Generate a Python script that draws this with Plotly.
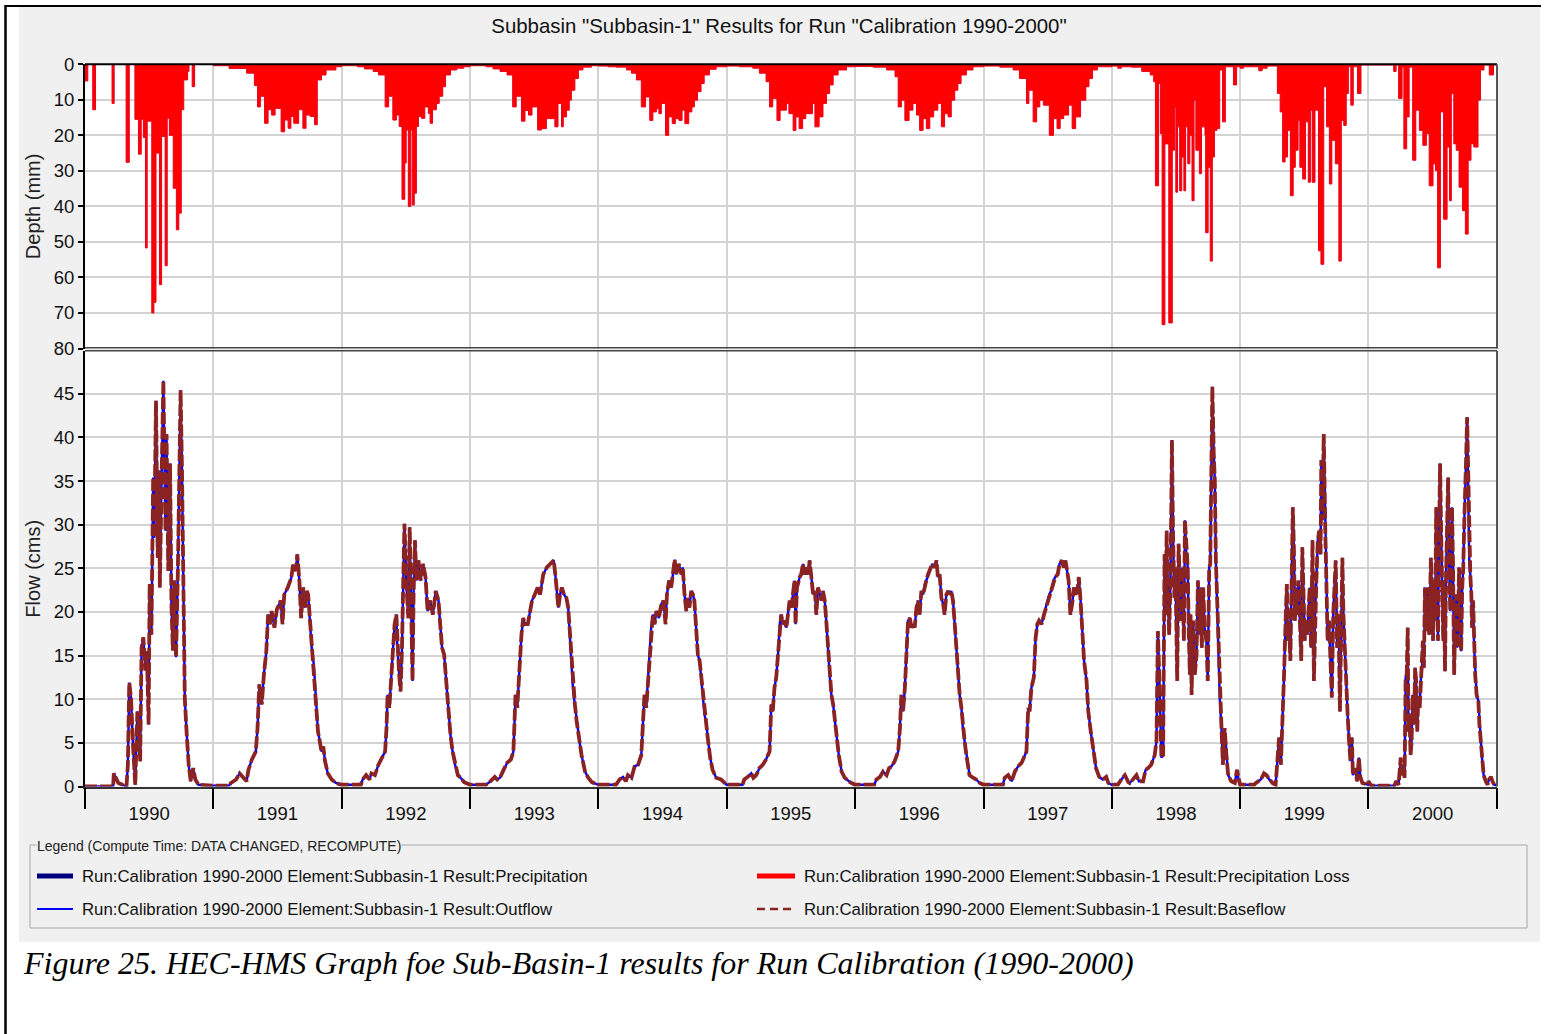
import datetime as dt
import plotly.graph_objects as go

# ---------------- data (day-of-year, value) ----------------
years = list(range(1990, 2001))
depth_ticks = [0, 10, 20, 30, 40, 50, 60, 70, 80]
flow_ticks = [0, 5, 10, 15, 20, 25, 30, 35, 40, 45]

flow_1990 = [(0,0),(80,0),(82,1.5),(95,0.4),(118,0),(122,2.5),(126,11.9),(131,10.1),(137,4.4),(143,0.2),(149,8.6),(153,7.1),(157,2.9),(161,15.9),(166,17.1),(172,13.3),(176,15.5),(181,7.1),(184,23.2),(189,17.4),(194,35.4),(197,28.5),(202,44.2),(207,26.2),(211,36.2),(213,22.8),(218,35.4),(223,46.5),(229,29.3),(232,40.4),(237,24.7),(242,37),(246,21),(250,15.6),(255,23.6),(259,14.8),(264,24),(269,38.5),(272,45.4),(276,36.2),(280,21),(284,10.1),(289,6.3),(295,2.5),(301,0.6),(308,2.1),(314,0.8),(323,0.2)]
flow_1991 = [(0,0.1),(45,0.1),(50,0.4),(65,0.8),(75,1.5),(85,1),(95,0.6),(100,1.9),(110,3.1),(121,4),(126,6.7),(131,11.7),(138,9.4),(144,12.8),(151,15.5),(156,19.7),(161,18.6),(166,20.1),(174,18.2),(181,20.3),(192,21.3),(197,18.6),(202,22),(212,22.8),(222,23.9),(227,25.4),(235,24.7),(239,26.6),(245,23.6),(250,19.3),(256,22.8),(261,20.5),(266,22.4),(270,22),(274,19.7),(280,15.9),(286,14),(290,10.9),(294,9.4),(298,6.3),(303,5.2),(308,4),(313,4.6),(318,2.9),(326,1.5),(337,0.8),(349,0.4)]
flow_1992 = [(0,0.2),(55,0.2),(60,0.8),(70,1.3),(80,0.8),(85,1.5),(95,1.3),(105,2.5),(116,3.4),(124,4),(128,6.7),(131,10.5),(136,9),(141,12.1),(146,15.1),(151,18.6),(156,19.7),(159,15.9),(164,12.8),(168,10.9),(172,15.9),(176,24.3),(179,30.1),(185,22.8),(190,19.3),(194,29.7),(199,19.7),(202,12.1),(205,22),(209,28.2),(213,23.6),(219,25.9),(225,23.6),(232,25.5),(239,24),(245,20.1),(252,21.3),(260,19.7),(268,22.4),(276,21.3),(280,19),(286,15.9),(292,15.1),(298,11.7),(304,9),(310,5.9),(316,4),(323,2.5),(331,1.3),(339,1),(349,0.5)]
flow_1993 = [(0,0.2),(45,0.2),(55,0.5),(70,1.1),(77,0.8),(85,1),(95,1.9),(105,2.7),(116,3.1),(123,4),(126,7.1),(129,10.5),(134,9),(138,12.1),(142,14.4),(146,17.4),(151,19.3),(156,18.6),(164,18.6),(171,20.5),(176,21.3),(184,22),(192,22.8),(199,22),(208,24.3),(218,25.1),(232,25.7),(238,25.9),(244,23.6),(251,20.5),(256,22),(261,22.8),(267,22),(274,21.6),(279,20.5),(284,17.4),(289,13.6),(293,10.9),(298,9.4),(303,7.5),(311,5.2),(317,3.6),(327,1.7),(336,1),(346,0.5)]
flow_1994 = [(0,0.2),(50,0.2),(60,0.8),(70,1.1),(78,0.6),(84,1.3),(94,1),(103,2.3),(113,2.5),(122,3.6),(127,7.5),(131,10.5),(136,9),(141,12.1),(146,15.1),(150,18.2),(155,19.7),(160,18.6),(165,20.1),(172,19.3),(179,20.9),(185,21.3),(191,18.6),(195,22),(201,23.6),(207,22.8),(212,24.3),(217,26),(221,24.3),(229,25.5),(236,24.3),(240,25.1),(245,22),(250,20.1),(254,21.6),(259,20.5),(264,22.4),(269,22),(273,21.3),(278,18.2),(283,15.1),(288,14.4),(295,11.3),(302,8.2),(306,7.5),(311,5.6),(318,3.3),(325,1.9),(335,1),(349,0.8)]
flow_1995 = [(0,0.2),(45,0.2),(50,0.8),(60,1.1),(70,1.5),(76,1),(84,1.3),(93,2.1),(103,2.5),(112,3.1),(122,4),(127,9.4),(131,8.6),(136,11.3),(141,12.5),(146,15.1),(151,18.6),(155,19.7),(160,18.6),(165,19),(170,18.2),(174,19.7),(179,21.3),(184,20.5),(189,22),(193,23.6),(196,18.6),(200,22.8),(208,24),(212,24.3),(217,25.5),(222,24.3),(227,25.1),(232,24.3),(236,25.9),(241,24),(246,22),(251,22.4),(255,19.7),(260,22.8),(265,22),(270,21.3),(274,22.4),(279,21.3),(284,18.6),(289,15.1),(293,12.8),(298,10.5),(303,9.4),(308,7.5),(313,5.6),(319,3.6),(327,1.7),(336,1),(351,0.5)]
flow_1996 = [(0,0.2),(55,0.2),(61,0.8),(71,1.1),(80,1.7),(90,1.3),(97,2.1),(104,2.3),(113,2.9),(123,4),(128,6.7),(132,10.5),(137,8.6),(142,11.3),(147,15.1),(151,19),(156,19.3),(161,18.2),(166,18.6),(170,18.2),(175,20.5),(180,21.3),(184,19.7),(189,22.4),(194,22),(199,23.2),(203,23.6),(208,24.3),(213,24.7),(220,25.5),(227,25.1),(232,25.9),(236,24),(241,24.3),(246,21.6),(251,20.9),(255,19.7),(260,22),(265,22.4),(270,22),(274,22.4),(279,21.3),(284,18.6),(289,15.1),(293,12.8),(298,10.5),(303,9),(307,6.7),(312,5.2),(317,3.6),(326,1.3),(336,1),(345,0.8),(355,0.4)]
flow_1997 = [(0,0.2),(55,0.2),(60,1),(70,1.3),(80,0.6),(89,1.7),(98,2.3),(108,2.7),(122,4),(127,9),(131,8.6),(136,11.3),(143,12.5),(148,17),(153,18.6),(158,19),(165,18.6),(172,19.7),(178,20.5),(182,21.3),(187,22),(192,22.4),(199,23.6),(204,24),(211,24.3),(216,25.5),(223,25.9),(228,25.1),(233,25.9),(238,24.3),(242,23.6),(247,19.7),(252,20.9),(257,22.8),(262,22),(267,22.4),(271,24),(276,21.3),(281,17),(286,14.4),(293,12.1),(298,8.6),(305,6.3),(313,4),(320,2.1),(329,1.1),(339,0.8),(349,1.1),(355,0.4)]
flow_1998 = [(0,0.2),(17,0.2),(27,0.8),(37,1.3),(47,0.5),(51,0.4),(60,0.8),(70,1.3),(77,0.6),(89,0.6),(96,1.9),(103,2.1),(112,2.5),(122,3.6),(127,5.2),(131,17.8),(136,11.3),(141,3.3),(146,3.6),(150,26.6),(153,19.7),(156,29.3),(160,21.3),(163,17.4),(167,23.6),(171,39.7),(174,29.3),(178,21.6),(181,25.1),(184,15.9),(186,12.1),(190,27.8),(193,22.8),(197,19),(200,25.1),(203,21.6),(205,16.7),(208,30.5),(212,26.6),(216,25.1),(219,17.4),(222,12.8),(224,19.7),(227,10.5),(231,19),(236,12.8),(241,15.1),(245,23.6),(248,17.4),(252,22.8),(256,15.9),(260,22.8),(264,18.2),(269,16.7),(273,12.1),(277,25.1),(280,25.5),(284,37),(286,45.8),(290,38.1),(293,35.1),(296,25.9),(299,21.6),(303,16.3),(307,10.2),(312,6.7),(316,2.5),(321,6.7),(326,3.6),(331,1.3),(340,0.6),(350,0.4),(356,1.9),(362,0.4)]
flow_1999 = [(0,0.2),(40,0.2),(45,0.4),(59,0.8),(68,1.5),(75,1.3),(83,0.8),(92,0.4),(101,0.2),(106,3.6),(111,5.6),(116,2.5),(120,6.3),(125,12.8),(130,19.7),(133,23.2),(136,16.7),(139,19),(143,14.4),(147,23.6),(150,32),(153,27.4),(156,19),(158,22.8),(162,19.7),(166,23.6),(170,19.7),(174,14.4),(177,27.4),(181,22),(184,16.7),(187,19),(191,17.4),(194,19.7),(198,22.8),(202,15.9),(206,28.2),(210,12.1),(213,19.7),(217,23.6),(221,28.2),(225,29.3),(229,26.6),(231,37.4),(234,30.5),(238,40.4),(242,30.1),(246,23.6),(249,16.7),(253,19),(257,14),(261,10.2),(265,19.7),(268,22),(272,25.9),(276,15.9),(280,19.7),(284,8.6),(287,19),(291,26.2),(294,19.7),(298,15.9),(302,10.2),(306,8.2),(310,5.2),(314,2.9),(318,5.6),(321,1.3),(327,2.1),(333,0.6),(338,3.3),(342,1.1),(348,0.4),(364,0.2)]
flow_2000 = [(0,0.6),(8,0.1),(74,0.1),(79,0.6),(86,0.2),(92,3.3),(95,1.3),(99,2.5),(103,1),(106,12.5),(109,12.8),(112,18.2),(114,6.3),(117,8.2),(120,3.6),(123,5.2),(126,10.5),(130,7.1),(133,13.6),(136,12.1),(139,6.3),(142,10.2),(146,9),(149,12.1),(153,13.6),(155,16.7),(158,13.6),(161,22.8),(164,17.8),(167,20.1),(170,22.8),(173,17.4),(175,19.7),(178,26.2),(181,21.3),(184,16.7),(187,23.6),(190,19),(193,32),(195,24.7),(198,16.7),(201,28.2),(204,37),(207,29.3),(210,22.8),(213,16.7),(215,23.6),(218,13.2),(221,24.3),(224,29.3),(227,35.4),(230,25.1),(233,20.1),(235,25.1),(238,32),(241,25.1),(244,12.8),(247,18.6),(250,22),(253,15.9),(255,18.2),(258,25.1),(261,19),(264,15.5),(267,22.8),(270,25.1),(273,30.5),(275,35.1),(278,37.4),(281,42.3),(284,35.1),(287,25.9),(290,24.3),(293,22),(295,18.2),(298,21.3),(301,15.9),(304,12.8),(308,10.5),(313,9.8),(316,7.1),(320,5.2),(324,2.9),(328,1.3),(334,0.6),(339,0.2),(343,0.8),(349,1.1),(353,0.6),(358,0.2),(365,0.1)]

precip_1990 = [(0,4.7),(8,0),(22,12.8),(30,0),(77,11),(83,0),(117,27.6),(126,0),(142,15.5),(152,25.3),(160,15.5),(166,20.6),(172,51.7),(177,16),(190,70),(196,67),(202,25),(212,62),(218,20.3),(228,56.7),(234,15.2),(240,20),(251,34.9),(260,46.6),(267,41.9),(274,12.8),(281,4.4),(292,2),(296,0),(305,6.3),(312,0)]
precip_1991 = [(0,0.4),(45,1.2),(95,2.5),(117,6),(126,12),(134,9),(146,16.6),(156,12.8),(166,14.3),(176,12.4),(193,19),(203,15.7),(213,18),(221,14.7),(229,16.6),(243,12.8),(255,18),(264,14.3),(276,14.7),(288,17),(296,4.4),(308,3),(321,1.6),(349,0.7)]
precip_1992 = [(0,0.4),(45,0.7),(65,1.3),(90,2),(105,3),(124,12),(134,9),(146,15.7),(156,14.3),(164,17.5),(172,38),(180,27.8),(184,18.5),(190,40),(197,18.5),(201,39.6),(207,36.3),(213,17.5),(219,14.7),(227,15.2),(237,12),(247,13.8),(252,16.6),(259,12.8),(270,11),(278,9),(288,6.3),(296,3),(310,1.6),(328,1.1),(348,0.7)]
precip_1993 = [(0,0.4),(45,0.7),(65,1.3),(85,2),(105,3),(121,12),(131,9),(146,16),(156,13),(166,14.3),(176,12),(192,18.5),(203,18.1),(217,15.3),(241,17.6),(250,11),(260,17.6),(265,14.8),(274,12.9),(282,10.1),(288,7.3),(298,4),(308,1.6),(321,0.8),(345,0.4)]
precip_1994 = [(0,0.5),(27,0.7),(51,0.8),(80,1.6),(94,2.5),(108,4.4),(122,12),(134,9.2),(146,15.8),(155,13.4),(165,12.5),(172,13.9),(179,11),(191,20),(200,14.8),(210,16.7),(219,15.3),(229,15.8),(238,12.9),(246,16.7),(257,13.4),(266,12),(273,10.1),(282,7.7),(292,5.4),(301,3),(316,1.4),(335,0.7)]
precip_1995 = [(0,0.5),(36,0.7),(74,1.1),(93,2.5),(112,4.9),(122,12),(131,9.6),(143,15.8),(152,12.9),(170,11),(177,13.9),(189,18.6),(197,14.8),(206,18.1),(216,15.3),(225,13.9),(244,11),(251,17.6),(263,14.8),(274,11),(284,8.2),(293,5.8),(303,3),(317,1.6),(341,0.7)]
precip_1996 = [(0,0.6),(52,0.8),(90,1.6),(114,3.5),(123,12),(132,10.1),(142,15.8),(154,12.9),(165,11),(175,14.3),(184,18.6),(194,15.3),(203,18.1),(213,14.8),(224,12.9),(236,11),(246,17.6),(255,13.9),(265,14.8),(274,10.1),(284,7.3),(293,5.4),(302,3),(317,1.6),(336,0.7)]
precip_1997 = [(0,0.5),(46,0.8),(84,1.6),(102,4),(122,11),(129,7.3),(141,16.2),(151,12),(160,10.1),(170,11.5),(187,20),(199,15.3),(209,18.1),(218,15.3),(228,14.3),(242,11.5),(252,18.1),(262,14.8),(276,10.1),(291,6.3),(300,4),(310,1.6),(324,0.7)]
precip_1998 = [(0,0.5),(17,1.1),(27,0.7),(56,0.8),(85,2),(109,3),(119,4.9),(124,34.2),(133,5.4),(138,19.5),(143,73.3),(151,22.4),(162,72.8),(172,24.2),(178,12),(182,36),(187,17.6),(193,35.6),(199,26.1),(205,35.6),(210,17.6),(216,28),(222,20),(228,38.4),(234,10.1),(239,24.2),(249,30.8),(255,17.6),(265,20),(267,47.4),(274,29),(280,55.4),(286,26.1),(292,18.6),(299,18.1),(307,1.6),(315,16.2),(323,0.7),(346,5.8),(355,0.7)]
precip_1999 = [(0,1.1),(10,0.7),(53,1.8),(63,1.1),(77,0.5),(106,8.2),(114,13.4),(121,27.5),(128,26.1),(135,18.6),(143,37),(151,29),(157,24.2),(165,15.8),(170,29),(178,32.3),(186,16.2),(194,33.2),(200,12.9),(205,33.2),(213,12.9),(223,52.5),(230,56.3),(238,6.3),(246,17.6),(254,33.7),(261,21.4),(271,28),(281,55.4),(288,15.8),(295,17.2),(302,8.2),(308,0.7),(315,11.5),(322,0.7),(334,8.2),(344,0.2)]
precip_2000 = [(0,0.2),(72,2),(79,0.2),(86,9.6),(96,0.8),(101,23.8),(109,14.8),(116,0.8),(126,27),(135,12.9),(145,18.6),(155,22.8),(165,19.5),(173,34.2),(184,28),(191,29.9),(197,57.3),(205,13.4),(214,43.6),(224,23.3),(231,38.4),(236,8.2),(243,22.4),(250,24.2),(258,34.6),(268,41.2),(276,47.8),(284,27),(292,22.4),(300,23.3),(312,10.1),(319,1.6),(329,0.2),(344,3),(356,0.2)]

flow_by_year = [flow_1990, flow_1991, flow_1992, flow_1993, flow_1994, flow_1995,
                flow_1996, flow_1997, flow_1998, flow_1999, flow_2000]
precip_by_year = [precip_1990, precip_1991, precip_1992, precip_1993, precip_1994, precip_1995,
                  precip_1996, precip_1997, precip_1998, precip_1999, precip_2000]

title_text = 'Subbasin "Subbasin-1" Results for Run "Calibration 1990-2000"'
legend_title = "Legend (Compute Time: DATA CHANGED, RECOMPUTE)"
legend_items = [
    "Run:Calibration 1990-2000 Element:Subbasin-1 Result:Precipitation",
    "Run:Calibration 1990-2000 Element:Subbasin-1 Result:Outflow",
    "Run:Calibration 1990-2000 Element:Subbasin-1 Result:Precipitation Loss",
    "Run:Calibration 1990-2000 Element:Subbasin-1 Result:Baseflow",
]
caption = "Figure 25. HEC-HMS Graph foe Sub-Basin-1 results for Run Calibration (1990-2000)"


def expand(year_lists):
    xs, ys = [], []
    for yr, pairs in zip(years, year_lists):
        base = dt.date(yr, 1, 1)
        for d, v in pairs:
            xs.append((base + dt.timedelta(days=d)).isoformat())
            ys.append(v)
    return xs, ys


flow_x, outflow = expand(flow_by_year)
baseflow = list(outflow)
precip_x, precip = expand(precip_by_year)
precip_x.append("2001-01-01")
precip.append(0)

W, H = 1554, 1034
def px(x):
    return x / W
def py(y):
    return 1 - y / H

SANS = "Liberation Sans, Arial, sans-serif"
GRID = "#d3d3d3"
X0, X1 = 85, 1497
TOP0, TOP1 = 64.3, 348.5
BOT0, BOT1 = 351, 786.5
year_bounds = [f"{y}-01-01" for y in years] + ["2001-01-01"]
xrange_ = ["1990-01-01", "2001-01-01"]

fig = go.Figure()
fig.add_trace(go.Scatter(x=precip_x, y=precip, mode="lines", line_shape="hv",
                         line=dict(color="#e8001c", width=1), fill="tozeroy",
                         fillcolor="#ff0000", xaxis="x", yaxis="y",
                         showlegend=False, hoverinfo="skip"))
fig.add_trace(go.Scatter(x=flow_x, y=outflow, mode="lines",
                         line=dict(color="#0000ff", width=2.4), xaxis="x2", yaxis="y2",
                         showlegend=False, hoverinfo="skip"))
fig.add_trace(go.Scatter(x=flow_x, y=baseflow, mode="lines",
                         line=dict(color="#8b2323", width=3.8, dash="12px,3px"),
                         xaxis="x2", yaxis="y2", showlegend=False, hoverinfo="skip"))
# carrier for the year-boundary tick axis
fig.add_trace(go.Scatter(x=year_bounds, y=[0] * len(year_bounds), mode="markers",
                         marker=dict(opacity=0), xaxis="x3", yaxis="y2",
                         showlegend=False, hoverinfo="skip"))

shapes = [
    dict(type="rect", xref="paper", yref="paper", x0=px(19), x1=px(1540), y0=py(942), y1=py(7),
         fillcolor="#f0f0f0", line=dict(width=0), layer="below"),
    dict(type="rect", xref="paper", yref="paper", x0=px(X0), x1=px(X1), y0=py(TOP1), y1=py(TOP0),
         fillcolor="white", line=dict(width=0), layer="below"),
    dict(type="rect", xref="paper", yref="paper", x0=px(X0), x1=px(X1), y0=py(BOT1), y1=py(BOT0),
         fillcolor="white", line=dict(width=0), layer="below"),
    dict(type="line", xref="paper", yref="paper", x0=px(5.5), x1=px(5.5), y0=0, y1=py(5),
         line=dict(color="black", width=2.5)),
    dict(type="line", xref="paper", yref="paper", x0=px(5), x1=px(1541), y0=py(6), y1=py(6),
         line=dict(color="black", width=2)),
    dict(type="line", xref="paper", yref="paper", x0=px(X0), x1=px(X1), y0=py(TOP0), y1=py(TOP0),
         line=dict(color="black", width=2)),
    dict(type="line", xref="paper", yref="paper", x0=px(X1), x1=px(X1), y0=py(TOP1), y1=py(TOP0),
         line=dict(color="#555555", width=2)),
    dict(type="line", xref="paper", yref="paper", x0=px(X1), x1=px(X1), y0=py(BOT1), y1=py(BOT0),
         line=dict(color="#555555", width=2)),
    dict(type="line", xref="paper", yref="paper", x0=px(X0), x1=px(X1), y0=py(347.8), y1=py(347.8),
         line=dict(color="#444444", width=1.6)),
    dict(type="line", xref="paper", yref="paper", x0=px(X0), x1=px(X1), y0=py(350.8), y1=py(350.8),
         line=dict(color="#444444", width=1.6)),
    dict(type="rect", xref="paper", yref="paper", x0=px(30), x1=px(1527), y0=py(928), y1=py(845),
         line=dict(color="#a8a8a8", width=1)),
    dict(type="line", xref="paper", yref="paper", x0=px(37), x1=px(73), y0=py(876), y1=py(876),
         line=dict(color="#000080", width=5)),
    dict(type="line", xref="paper", yref="paper", x0=px(37), x1=px(73), y0=py(909), y1=py(909),
         line=dict(color="#0000ff", width=2)),
    dict(type="line", xref="paper", yref="paper", x0=px(757), x1=px(795), y0=py(876), y1=py(876),
         line=dict(color="#ff0000", width=5)),
    dict(type="line", xref="paper", yref="paper", x0=px(757), x1=px(795), y0=py(909), y1=py(909),
         line=dict(color="#8b2323", width=2.5, dash="8px,5px")),
]

LEG = 16.8
annotations = [
    dict(text=legend_title, x=px(36), y=py(846), xref="paper", yref="paper", xanchor="left",
         yanchor="middle", showarrow=False, bgcolor="#f0f0f0", borderpad=0,
         font=dict(family=SANS, size=14, color="#222222")),
    dict(text=legend_items[0], x=px(80), y=py(876), xref="paper", yref="paper", xanchor="left",
         yanchor="middle", showarrow=False, font=dict(family=SANS, size=LEG, color="#111111")),
    dict(text=legend_items[1], x=px(80), y=py(909), xref="paper", yref="paper", xanchor="left",
         yanchor="middle", showarrow=False, font=dict(family=SANS, size=LEG, color="#111111")),
    dict(text=legend_items[2], x=px(802), y=py(876), xref="paper", yref="paper", xanchor="left",
         yanchor="middle", showarrow=False, font=dict(family=SANS, size=LEG, color="#111111")),
    dict(text=legend_items[3], x=px(802), y=py(909), xref="paper", yref="paper", xanchor="left",
         yanchor="middle", showarrow=False, font=dict(family=SANS, size=LEG, color="#111111")),
    dict(text="<i>" + caption + "</i>", x=px(21), y=py(963), xref="paper", yref="paper",
         xanchor="left", yanchor="middle", showarrow=False,
         font=dict(family="Liberation Serif, Times New Roman, serif", size=32, color="black")),
]

tickfont = dict(family=SANS, size=18.5, color="#111111")

fig.update_layout(
    width=W, height=H, margin=dict(l=0, r=0, t=0, b=0, autoexpand=False),
    paper_bgcolor="white", plot_bgcolor="white",
    showlegend=False,
    title=dict(text=title_text, x=px(779), y=py(26), xref="paper", yref="paper",
               xanchor="center", yanchor="middle", automargin=False,
               font=dict(family=SANS, size=20.4, color="#111111")),
    xaxis=dict(domain=[px(X0), px(X1)], type="date", range=xrange_, automargin=False,
               anchor="y", tickmode="array", tickvals=year_bounds, showticklabels=False,
               ticks="", showgrid=True, gridcolor=GRID, gridwidth=1.5, zeroline=False,
               showline=False),
    yaxis=dict(domain=[py(TOP1), py(TOP0)], range=[80, 0], anchor="x", automargin=False,
               tickmode="array", tickvals=depth_ticks, ticks="outside", ticklen=5, tickwidth=1.5,
               tickcolor="black", tickfont=tickfont, showgrid=True, gridcolor=GRID,
               gridwidth=1.5, zeroline=False, showline=True, linecolor="black", linewidth=2,
               title=dict(text="Depth (mm)", standoff=8,
                          font=dict(family=SANS, size=20, color="#222222"))),
    xaxis2=dict(domain=[px(X0), px(X1)], type="date", range=xrange_, automargin=False,
                anchor="y2", dtick="M12", tick0="1990-01-01", tickformat="%Y",
                ticklabelmode="period", ticks="", ticklabelstandoff=9,
                tickfont=dict(family=SANS, size=18.5, color="#111111"), showgrid=True,
                gridcolor=GRID, gridwidth=1.5, zeroline=False, showline=True,
                linecolor="#333333", linewidth=2),
    xaxis3=dict(domain=[px(X0), px(X1)], type="date", range=xrange_, automargin=False,
                anchor="y2", overlaying="x2", tickmode="array", tickvals=year_bounds,
                ticks="outside", ticklen=21, tickwidth=1.5, tickcolor="black",
                showticklabels=False, showgrid=False, zeroline=False, showline=False),
    yaxis2=dict(domain=[py(BOT1), py(BOT0)], range=[0, 49.9], anchor="x2", automargin=False,
                tickmode="array", tickvals=flow_ticks, ticks="outside", ticklen=5, tickwidth=1.5,
                tickcolor="black", tickfont=tickfont, showgrid=True, gridcolor=GRID,
                gridwidth=1.5, zeroline=False, showline=True, linecolor="black", linewidth=2,
                title=dict(text="Flow (cms)", standoff=8,
                           font=dict(family=SANS, size=20, color="#222222"))),
    shapes=shapes,
    annotations=annotations,
)

fig.write_html("out.html")
